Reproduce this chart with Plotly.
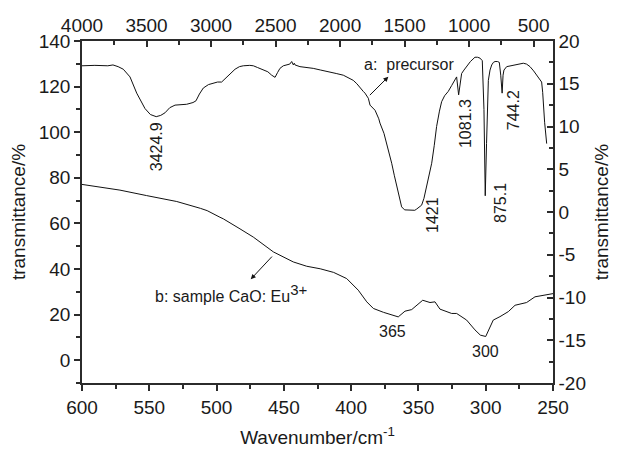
import plotly.graph_objects as go

# Curve a: precursor, mid-IR spectrum (top wavenumber axis, right transmittance axis)
wn_a = [4000, 3900, 3800, 3760, 3720, 3680, 3628, 3576, 3512, 3470, 3424.9, 3390, 3357,
        3320, 3279, 3230, 3189, 3140, 3117, 3090, 3060, 3020, 2983, 2950, 2918, 2879,
        2840, 2814, 2780, 2750, 2700, 2672, 2640, 2607, 2560, 2530, 2504, 2485, 2466,
        2440, 2414, 2390, 2375, 2362, 2355, 2349, 2311, 2250, 2208, 2150, 2078, 2030,
        1975, 1930, 1898, 1870, 1846, 1820, 1807, 1781, 1768, 1745, 1729, 1700, 1691,
        1660, 1639, 1619, 1600, 1580, 1561, 1540, 1523, 1500, 1484, 1440, 1421, 1406,
        1390, 1368, 1350, 1329, 1310, 1290, 1270, 1252, 1230, 1213, 1190, 1162, 1135,
        1110, 1097, 1081.3, 1070, 1058, 1040, 1019, 990, 955, 935, 916, 898, 885,
        875.1, 865, 851, 838, 825, 812, 799, 780, 766, 755, 744.2, 737, 730, 709, 680,
        657, 620, 580, 555, 528, 500, 476, 455, 438, 430, 425, 415, 399]
tr_a = [17.1, 17.15, 17.1, 17.2, 17.0, 16.7, 15.8, 13.9, 12.1, 11.4, 11.15, 11.3, 11.6,
        12.2, 12.5, 12.6, 12.6, 12.8, 13.0, 13.8, 14.5, 14.9, 15.05, 15.2, 15.2, 15.8,
        16.4, 16.7, 17.0, 17.1, 17.15, 17.1, 16.9, 16.7, 16.4, 16.0, 15.75, 16.3, 16.8,
        17.1, 17.2, 17.3, 17.6, 17.2, 17.4, 17.2, 17.0, 16.9, 16.8, 16.6, 16.4, 16.2,
        16.0, 15.7, 15.4, 15.0, 14.5, 14.1, 13.9, 13.3, 12.5, 12.2, 11.9, 10.9, 10.4,
        9.2, 8.0, 7.0, 5.7, 4.3, 2.95, 1.5, 0.6, 0.25, 0.23, 0.22, 0.2, 0.35,
        0.5, 0.8, 1.6, 2.95, 4.3, 5.7, 7.8, 10.0, 11.8, 12.9, 13.6, 14.1, 14.8,
        15.4, 15.8, 13.7, 15.0, 16.2, 16.6, 17.0, 17.6, 18.1, 18.1, 18.0, 17.7, 12.0,
        1.9, 8.0, 15.4, 16.6, 17.2, 17.5, 17.6, 17.6, 17.5, 16.0, 13.9, 16.0, 16.6, 17.0, 17.1,
        17.2, 17.3, 17.4, 17.3, 17.0, 16.5, 16.0, 15.6, 15.2, 14.0, 12.3, 10.5, 8.0]

# Curve b: CaO:Eu3+ sample, far-IR spectrum (bottom wavenumber axis, left transmittance axis)
wn_b = [600, 586.6, 571.8, 552, 529.6, 512, 507, 497.5, 495, 482.6, 472.7, 457.8, 443,
        433, 423, 413, 403.3, 394.7, 388.4, 383.5, 376, 365, 360, 355, 351, 346.8,
        341.4, 337.7, 334, 328, 325.3, 321.6, 314.2, 308, 304, 300, 294.4, 289.4,
        283.2, 278.2, 275, 269.6, 263.4, 254.7, 250]
tr_b = [77.1, 75.8, 74.6, 72.2, 69.6, 66.6, 65.6, 62.7, 62.0, 57.6, 54.0, 47.5, 43.1,
        41.2, 40.1, 38.5, 35.8, 30.7, 25.6, 22.7, 21.0, 19.0, 21.5, 22.2, 24.0, 26.3,
        25.3, 25.6, 22.4, 21.2, 20.5, 20.5, 17.6, 13.3, 11.0, 10.4, 17.6, 19.1,
        21.3, 24.1, 24.6, 25.3, 27.8, 28.9, 29.2]

# Right-axis ticks, labelled with plain hyphens
right_ticks = [-20, -15, -10, -5, 0, 5, 10, 15, 20]
right_labels = ["-20", "-15", "-10", "-5", "0", "5", "10", "15", "20"]

# Peak labels for curve a: (text, wavenumber, transmittance position)
peaks_a = [("3424.9", 3424.9, 7.6), ("1421", 1280, -0.35), ("1081.3", 1032, 10.4),
           ("875.1", 761, 1.05), ("744.2", 660, 11.9)]
# Peak labels for curve b
peaks_b = [("365", 369, 12.5), ("300", 300, 3.7)]

FONT = "Arial, Liberation Sans, sans-serif"
AX = "#2b2b2b"
TXT = "#1a1a1a"

fig = go.Figure()
fig.add_trace(go.Scatter(x=wn_a, y=tr_a, xaxis="x2", yaxis="y2", mode="lines",
                         line=dict(color="#111", width=1), showlegend=False))
fig.add_trace(go.Scatter(x=wn_b, y=tr_b, xaxis="x", yaxis="y", mode="lines",
                         line=dict(color="#111", width=1), showlegend=False))

ann = []
for t, x, y in peaks_a:
    ann.append(dict(text=t, x=x, y=y, xref="x2", yref="y2", showarrow=False,
                    textangle=-90, font=dict(size=16, color=TXT)))
for t, x, y in peaks_b:
    ann.append(dict(text=t, x=x, y=y, xref="x", yref="y", showarrow=False,
                    font=dict(size=16, color=TXT)))
ann.append(dict(text="a:  precursor", x=1466, y=17.2, xref="x2", yref="y2",
                showarrow=False, font=dict(size=16, color=TXT)))
ann.append(dict(text="", x=1626, y=15.82, ax=1781, ay=13.49, xref="x2", yref="y2",
                axref="x2", ayref="y2", showarrow=True, arrowhead=2, arrowsize=1,
                arrowwidth=1, arrowcolor="#111"))
ann.append(dict(text='b: sample CaO: Eu<sup><span style="font-size:15px">3+</span></sup>',
                x=547, y=29.3, xref="x", yref="y",
                xanchor="left", showarrow=False, font=dict(size=16, color=TXT)))
ann.append(dict(text="", x=474.6, y=35.5, ax=457.8, ay=46.1, xref="x", yref="y",
                axref="x", ayref="y", showarrow=True, arrowhead=2, arrowsize=1,
                arrowwidth=1, arrowcolor="#111"))

common = dict(showgrid=False, zeroline=False, showline=True, linecolor=AX, linewidth=1.5,
              tickcolor=AX, tickwidth=1.5, ticklen=6, automargin=False,
              tickfont=dict(size=19, color=TXT, family=FONT))

fig.update_layout(
    width=619, height=450,
    margin=dict(l=82, r=66, t=41, b=67),
    paper_bgcolor="white", plot_bgcolor="white",
    font=dict(family=FONT, color=TXT),
    annotations=ann,
    xaxis=dict(range=[600, 250], tick0=250, dtick=50, ticks="outside",
               minor=dict(dtick=25, ticklen=4, ticks="outside", tickcolor=AX),
               title=dict(text="Wavenumber/cm<sup>-1</sup>", font=dict(size=19, color=TXT),
                          standoff=14),
               **common),
    xaxis2=dict(range=[4000, 350], overlaying="x", side="top", tick0=500, dtick=500,
                ticks="inside", anchor="y",
                minor=dict(dtick=250, ticklen=4, ticks="inside", tickcolor=AX),
                **common),
    yaxis=dict(range=[-10, 140], tick0=0, dtick=20, ticks="outside",
               minor=dict(dtick=10, ticklen=4, ticks="outside", tickcolor=AX),
               title=dict(text="transmittance/%", font=dict(size=19, color=TXT), standoff=8),
               **common),
    yaxis2=dict(range=[-20, 20], overlaying="y", side="right",
                tickmode="array", tickvals=right_ticks, ticktext=right_labels,
                ticks="inside", anchor="x",
                minor=dict(dtick=2.5, tick0=0, ticklen=4, ticks="inside", tickcolor=AX),
                title=dict(text="transmittance/%", font=dict(size=19, color=TXT), standoff=10),
                **common),
)

fig.write_html("out.html")
